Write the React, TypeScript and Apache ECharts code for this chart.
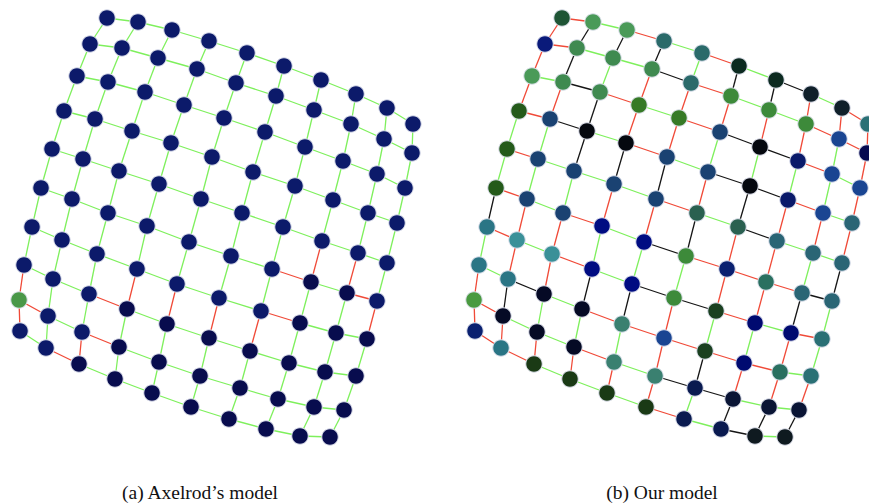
import React, { useEffect, useRef } from "react";
import * as echarts from "echarts";

// Node layout (shared by both panels), 10 rows x 10 columns
const layoutX: number[][] = [
  [107, 138, 172, 209, 247, 284, 321, 356, 387, 413],
  [90, 122, 158, 197, 236, 276, 314, 351, 384, 412],
  [77, 108, 145, 184, 224, 265, 305, 343, 377, 405],
  [64, 95, 132, 171, 212, 253, 295, 333, 368, 397],
  [52, 83, 119, 159, 201, 242, 283, 322, 358, 387],
  [41, 72, 108, 147, 189, 231, 272, 311, 347, 377],
  [32, 62, 97, 137, 177, 219, 261, 300, 336, 367],
  [24, 53, 89, 127, 167, 209, 250, 289, 325, 356],
  [19, 48, 82, 119, 159, 200, 240, 278, 314, 344],
  [20, 46, 79, 115, 152, 191, 229, 266, 300, 330],
];
const layoutY: number[][] = [
  [18, 22, 30, 41, 53, 66, 80, 94, 108, 124],
  [44, 48, 58, 69, 83, 96, 110, 124, 139, 153],
  [76, 82, 92, 105, 118, 132, 147, 161, 174, 188],
  [111, 119, 131, 143, 157, 172, 186, 200, 213, 223],
  [149, 159, 171, 184, 199, 213, 227, 241, 253, 263],
  [188, 199, 213, 226, 242, 256, 269, 282, 293, 301],
  [227, 240, 254, 269, 284, 298, 311, 323, 333, 339],
  [265, 279, 294, 309, 324, 338, 351, 363, 372, 376],
  [300, 316, 332, 347, 362, 376, 388, 399, 407, 410],
  [331, 348, 364, 379, 393, 407, 419, 429, 436, 437],
];

// (a) Axelrod's model: node states
const axelrodStates: string[][] = [
  "AAAAAAAAAA", "AAAAAAAAAA", "AAAAAAAAAA", "AAAAAAAAAA", "AAAAAAAAAA",
  "AAAAAAABBA", "AAAAAAABBB", "AAABBBBBBB", "GAABBBBBBB", "AABBBBBBBB",
].map((s) => s.split(""));
// horizontal edges (row r, col c -> c+1) and vertical edges (row r -> r+1, col c)
const axelrodH: string[] = [
  "ggggggggg", "ggggggggg", "ggggggggg", "ggggggggg", "ggggggggg",
  "ggggggrgr", "ggggggrgg", "ggrgggggg", "rgrgggggg", "grggggggg",
];
const axelrodV: string[] = [
  "gggggggggg", "gggggggggg", "gggggggggg", "gggggggggg", "gggggggrrg",
  "gggggggggr", "gggrrrrggg", "rggggggggg", "rgrggggggg",
];

// (b) Our model: node states
const ourStates: string[][] = [
  ["fg", "lg", "lg", "tl", "tl", "vd", "vd", "dk", "dk", "tt"],
  ["nb", "mg", "mg", "mg", "tl", "g2", "g2", "g2", "bb", "nd"],
  ["lg", "mg", "mg", "gg", "gg", "bl", "bk", "n2", "bb", "bb"],
  ["og", "bl", "bk", "bk", "bl", "bl", "bk", "n2", "bb", "ts"],
  ["og", "bl", "bl", "bl", "bl", "gt", "gt", "ts", "ts", "ts"],
  ["og", "bl", "bl", "nv", "nv", "g2", "n6", "tg", "ts", "ts"],
  ["tc", "lt", "lt", "nv", "nv", "g2", "fd", "n7", "n7", "tt"],
  ["tc", "tc", "bn", "bn", "sg", "bb", "fd", "n7", "tg", "tt"],
  ["gr", "bn", "bn", "bn", "sg", "sg", "ns", "ds", "ds", "ds"],
  ["n6", "tc", "dd", "dd", "dd", "dd", "ns", "ns", "dt", "dt"],
];
const ourH: string[] = [
  "rgrgrgkgr", "rggkrggrr", "gkrgrkkrg", "rkgrgkkrg", "rgggrgkgg",
  "rgrgkrrrk", "rgrgkkrgr", "gkgrrrrrg", "rggrgkkgg", "rrgggrgkg",
];
const ourV: string[] = [
  "rkkkgkkrrr", "rkgrrrrrgr", "rrkrrggggr", "ggkkkrkrrr", "gggrrkrrgk",
  "krrgggrrkg", "grrkkrggrg", "rkgggrkrrr", "rrrrrrgkkk",
];

const captions = ["(a) Axelrod\u2019s model", "(b) Our model"];

const nodeColors: Record<string, string> = {
  A: "#0c1a6a", B: "#080c4e", G: "#4a9848",
  fg: "#1f5535", lg: "#4a9a58", mg: "#3f8a50", gg: "#367a26", g2: "#3d8a3a",
  og: "#245a1a", tl: "#2a6a6a", vd: "#0c2a20", dk: "#10202a", tt: "#2a7075",
  bl: "#1a4272", bb: "#1a4592", nv: "#000c82", nb: "#0a1a7a", nd: "#060a50",
  n2: "#0a1a6a", bk: "#05080f", bn: "#050a25", tc: "#2a7585", lt: "#3a9098",
  sg: "#3a8070", gt: "#2a6050", ts: "#2a6575", tg: "#2a7060", fd: "#1a4020",
  dd: "#1a3a15", n7: "#000a70", n6: "#0a2070", ns: "#0a1a50", ds: "#0a1535",
  dt: "#0f1a20", gr: "#4a9a40",
};
const edgeColors: Record<string, string> = { g: "#7ef05c", r: "#f04a38", k: "#151515" };

function buildGraph(states: string[][], hEdges: string[], vEdges: string[]) {
  const nodes: any[] = [];
  const links: any[] = [];
  for (let r = 0; r < layoutX.length; r++) {
    for (let c = 0; c < layoutX[r].length; c++) {
      nodes.push({
        value: [layoutX[r][c], layoutY[r][c]],
        itemStyle: { color: nodeColors[states[r][c]] },
      });
    }
  }
  for (let r = 0; r < hEdges.length; r++) {
    for (let c = 0; c < hEdges[r].length; c++) {
      links.push({ source: r * 10 + c, target: r * 10 + c + 1, lineStyle: { color: edgeColors[hEdges[r][c]] } });
    }
  }
  for (let r = 0; r < vEdges.length; r++) {
    for (let c = 0; c < vEdges[r].length; c++) {
      links.push({ source: r * 10 + c, target: (r + 1) * 10 + c, lineStyle: { color: edgeColors[vEdges[r][c]] } });
    }
  }
  return { nodes, links };
}

export default function App() {
  const ref = useRef<HTMLDivElement>(null);
  useEffect(() => {
    if (!ref.current) return;
    const chart = echarts.init(ref.current, undefined, { renderer: "svg" });
    const a = buildGraph(axelrodStates, axelrodH, axelrodV);
    const b = buildGraph(ourStates, ourH, ourV);
    const axisBase = { type: "value" as const, show: false, splitLine: { show: false } };
    const graphBase = {
      type: "graph" as const,
      layout: "none" as const,
      coordinateSystem: "cartesian2d" as const,
      symbol: "circle",
      symbolSize: 16.5,
      itemStyle: { borderColor: "#dfe2ee", borderWidth: 1 },
      lineStyle: { width: 1.3, opacity: 1, curveness: 0 },
      label: { show: false },
      emphasis: { disabled: true },
      silent: true,
    };
    chart.setOption({
      animation: false,
      backgroundColor: "#ffffff",
      grid: [
        { left: 0, top: 0, width: 414, height: 504 },
        { left: 455, top: 0, width: 414, height: 504 },
      ],
      xAxis: [
        { ...axisBase, gridIndex: 0, min: 0, max: 414 },
        { ...axisBase, gridIndex: 1, min: 0, max: 414 },
      ],
      yAxis: [
        { ...axisBase, gridIndex: 0, min: 0, max: 504, inverse: true },
        { ...axisBase, gridIndex: 1, min: 0, max: 504, inverse: true },
      ],
      series: [
        { ...graphBase, xAxisIndex: 0, yAxisIndex: 0, data: a.nodes, links: a.links },
        { ...graphBase, xAxisIndex: 1, yAxisIndex: 1, data: b.nodes, links: b.links },
      ],
      graphic: [
        {
          type: "text", x: 200, y: 492,
          style: { text: captions[0], font: '19.5px "Liberation Serif", "Times New Roman", serif', fill: "#111", textAlign: "center", textVerticalAlign: "middle" },
        },
        {
          type: "text", x: 662, y: 492,
          style: { text: captions[1], font: '19.5px "Liberation Serif", "Times New Roman", serif', fill: "#111", textAlign: "center", textVerticalAlign: "middle" },
        },
      ],
    });
    return () => chart.dispose();
  }, []);
  return (
    <div
      ref={ref}
      style={{ position: "fixed", left: 0, top: 0, width: 869, height: 504, background: "#fff" }}
    />
  );
}
